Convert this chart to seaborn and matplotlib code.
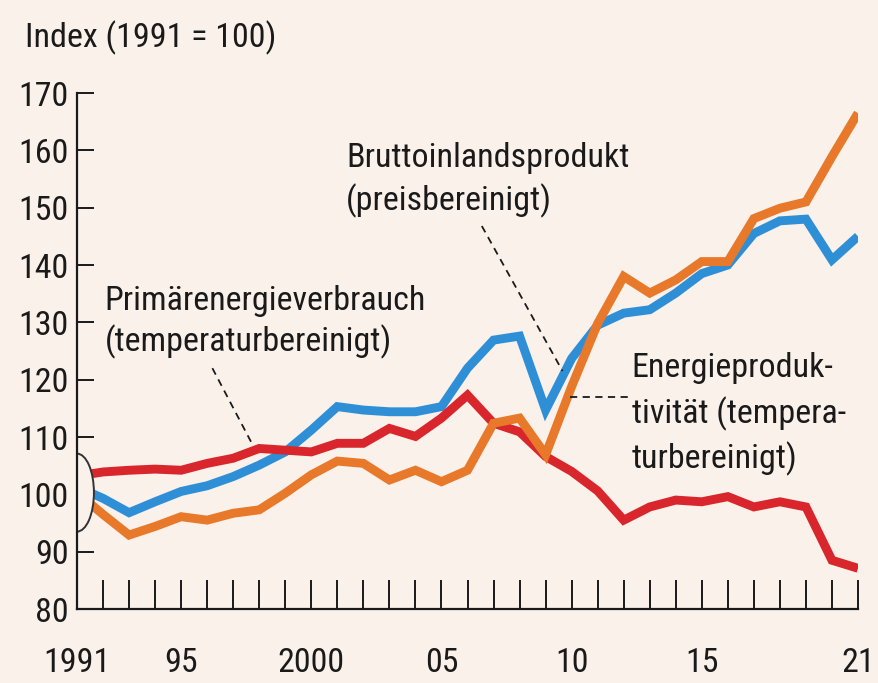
import numpy as np
import pandas as pd
import matplotlib
matplotlib.use("Agg")
import matplotlib.pyplot as plt
import seaborn as sns
from matplotlib.patches import Ellipse

years = list(range(1991, 2022))

bip = [101.3, 99.3, 96.8, 98.7, 100.5, 101.5, 103.1, 105.1, 107.4, 111.2,
       115.3, 114.7, 114.4, 114.4, 115.3, 122.0, 126.9, 127.6, 114.7, 123.7,
       129.5, 131.6, 132.2, 135.1, 138.5, 140.0, 145.5, 147.7, 148.0, 140.9, 145.0]

pev = [103.2, 103.9, 104.2, 104.4, 104.2, 105.4, 106.3, 108.0, 107.7, 107.4,
       108.9, 108.9, 111.5, 110.1, 113.3, 117.3, 112.4, 110.9, 106.6, 104.0,
       100.6, 95.5, 97.8, 99.0, 98.7, 99.6, 97.8, 98.7, 97.8, 88.5, 87.1]

epr = [100.3, 96.5, 92.9, 94.4, 96.1, 95.5, 96.7, 97.3, 100.2, 103.4,
       105.8, 105.4, 102.5, 104.2, 102.2, 104.2, 112.4, 113.3, 106.9, 118.8,
       129.8, 138.0, 135.1, 137.4, 140.6, 140.6, 148.1, 149.9, 151.0, 158.9, 166.5]

series_names = ["Bruttoinlandsprodukt", "Primärenergieverbrauch", "Energieproduktivität"]
colors = ["#2F8FD6", "#D8262C", "#E8782A"]

tick_pos = [1991, 1995, 2000, 2005, 2010, 2015, 2021]
tick_lab = ["1991", "95", "2000", "05", "10", "15", "21"]
y_ticks = list(range(80, 171, 10))

df = pd.DataFrame({
    "Jahr": years * 3,
    "Index": bip + pev + epr,
    "Reihe": [series_names[0]] * len(years) + [series_names[1]] * len(years) + [series_names[2]] * len(years),
})

bg = "#FAF1EA"
sns.set_theme(style="white")
plt.rcParams["font.family"] = ["Liberation Sans Narrow", "Roboto Condensed", "DejaVu Sans"]

fig = plt.figure(figsize=(8.79, 6.83), dpi=100, facecolor=bg)
ax = fig.add_axes([77 / 879, 1 - 609 / 683, (858 - 77) / 879, (609 - 93) / 683])
ax.set_facecolor(bg)

sns.lineplot(data=df, x="Jahr", y="Index", hue="Reihe", hue_order=series_names,
             palette=colors, linewidth=6.4, legend=False, ax=ax,
             solid_joinstyle="miter", solid_capstyle="butt")

ax.set_xlim(1991, 2021)
ax.set_ylim(80, 170)
ax.set_xlabel("")
ax.set_ylabel("")

fs = 24.5
tc = "#1a1a1a"
ax.set_xticks(years, minor=False)
ax.set_xticklabels([tick_lab[tick_pos.index(y)] if y in tick_pos else "" for y in years])
ax.set_yticks(y_ticks)
ax.set_yticklabels([str(v) for v in y_ticks])
ax.tick_params(axis="x", direction="in", length=21, width=1.4, color=tc,
               labelsize=fs, pad=27, labelcolor=tc, bottom=True)
ax.tick_params(axis="y", direction="in", length=12, width=1.4, color=tc,
               labelsize=fs, pad=6, labelcolor=tc, left=True)

for s in ["top", "right"]:
    ax.spines[s].set_visible(False)
for s in ["left", "bottom"]:
    ax.spines[s].set_color(tc)
    ax.spines[s].set_linewidth(1.6)
    ax.spines[s].set_zorder(4)

# circle marking the base year
ell = Ellipse((1991, 100.3), width=1.3, height=13.6, facecolor=bg,
              edgecolor="#333333", linewidth=1.4, zorder=3, clip_on=True)
ax.add_patch(ell)

# annotations
txt = dict(fontsize=fs, color=tc, va="baseline", ha="left")
ax.text(2001.34, 157.1, "Bruttoinlandsprodukt", **txt)
ax.text(2001.34, 149.6, "(preisbereinigt)", **txt)
ax.text(1992.07, 132.1, "Primärenergieverbrauch", **txt)
ax.text(1992.07, 124.9, "(temperaturbereinigt)", **txt)
ax.text(2012.3, 120.4, "Energieproduk-", **txt)
ax.text(2012.3, 112.4, "tivität (tempera-", **txt)
ax.text(2012.3, 104.5, "turbereinigt)", **txt)

dash = dict(color=tc, linewidth=1.3, linestyle=(0, (4, 3)), zorder=6)
ax.plot([2006.55, 2009.65], [146.8, 121.5], **dash)
ax.plot([2009.95, 2012.15], [117.0, 117.0], **dash)
ax.plot([1996.2, 1997.75], [122.0, 108.6], **dash)

fig.text(25 / 879, 1 - 47 / 683, "Index (1991 = 100)", fontsize=fs, color=tc,
         ha="left", va="baseline")

fig.savefig("out.png", dpi=100, facecolor=bg)
